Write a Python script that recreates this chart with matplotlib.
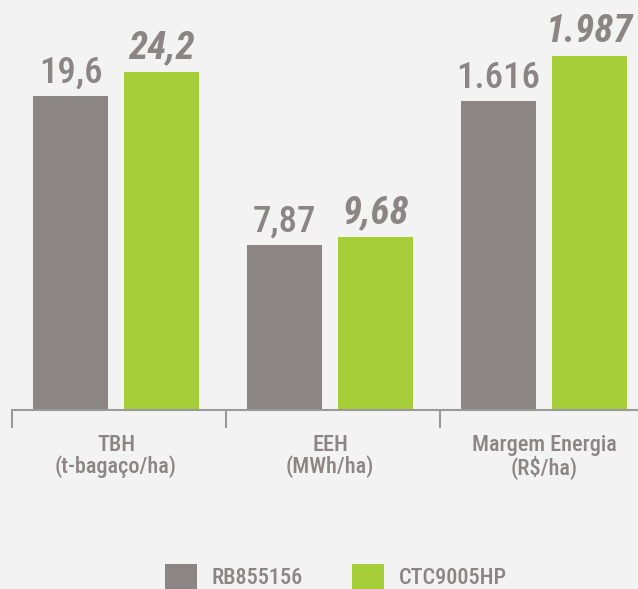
import matplotlib.pyplot as plt
import matplotlib.font_manager as fm
import numpy as np

categories = ["TBH\n(t-bagaço/ha)", "EEH\n(MWh/ha)", "Margem Energia\n(R$/ha)"]
series = ["RB855156", "CTC9005HP"]
# bar heights as drawn in the picture (each group has its own visual scale)
rb_heights = [314, 165, 309]
ctc_heights = [338, 173, 354]
rb_labels = ["19,6", "7,87", "1.616"]
ctc_labels = ["24,2", "9,68", "1.987"]

names = set(f.name for f in fm.fontManager.ttflist)
narrow = "Liberation Sans"
for cand in ["Roboto Condensed", "Archivo Narrow", "PT Sans Narrow", "Liberation Sans Narrow"]:
    if cand in names:
        narrow = cand
        break

GRAY = "#8b8586"
GREEN = "#a6ce39"
BG = "#f3f3f3"

fig = plt.figure(figsize=(6.38, 5.89), dpi=100, facecolor=BG)
ax = fig.add_axes([0, 179 / 589, 1, 410 / 589])
ax.set_facecolor("none")

step = 214
x = np.arange(len(categories))
w = 75 / step
off = (75 + 16) / 2 / step
ax.bar(x - off, rb_heights, width=w, color=GRAY, label=series[0])
ax.bar(x + off, ctc_heights, width=w, color=GREEN, label=series[1])

for i in range(len(x)):
    ax.text(x[i] - off, rb_heights[i] + 13, rb_labels[i], ha="center", va="baseline",
            fontsize=26.5, color=GRAY, family=narrow, weight="medium")
    ax.text(x[i] + off, ctc_heights[i] + 14, ctc_labels[i], ha="center", va="baseline",
            fontsize=28, color=GRAY, family=narrow, weight="heavy", style="italic")

ax.set_xlim(-116 / step, (638 - 116) / step)
ax.set_ylim(0, 410)
for s in ["top", "right", "left"]:
    ax.spines[s].set_visible(False)
ax.spines["bottom"].set_color("#9a9a9a")
ax.spines["bottom"].set_linewidth(1.5)
ax.spines["bottom"].set_bounds(-0.485, 3)
ax.set_yticks([])
ax.set_xticks(x - 0.485)
ax.set_xticklabels([])
ax.tick_params(axis="x", length=13, width=1.5, color="#9a9a9a", direction="out")
ax.set_xticks(x, minor=True)
ax.set_xticklabels(categories, minor=True, fontsize=16, color=GRAY, family=narrow,
                   weight="medium", linespacing=1.0)
ax.tick_params(axis="x", which="minor", length=0, pad=17)

handles, labs = ax.get_legend_handles_labels()
fig.legend(handles, labs, loc="center", bbox_to_anchor=(336 / 638, 1 - 577 / 589), ncol=2,
           frameon=False, prop={"family": narrow, "size": 16, "weight": "medium"},
           labelcolor=GRAY, handlelength=1.45, handleheight=1.45, handletextpad=0.65,
           columnspacing=2.2, borderpad=0, borderaxespad=0)

fig.savefig("out.png", dpi=100, facecolor=BG)
